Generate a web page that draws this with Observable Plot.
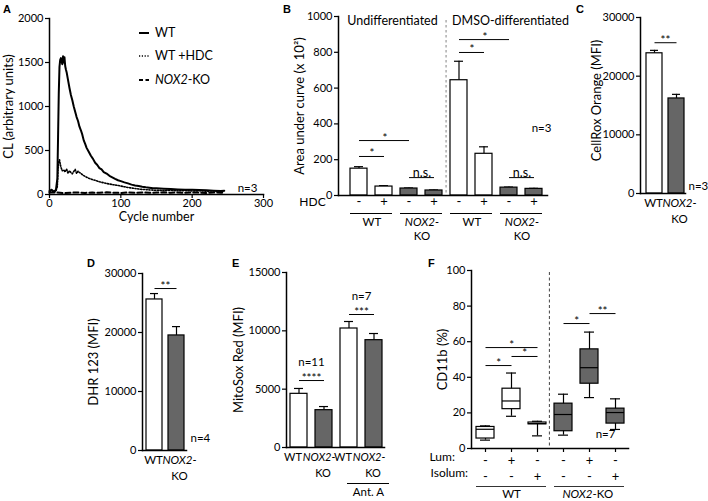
<!DOCTYPE html>
<html><head><meta charset="utf-8">
<script src="https://cdn.jsdelivr.net/npm/d3@7"></script>
<script src="https://cdn.jsdelivr.net/npm/@observablehq/plot@0.6"></script>
<style>
html,body{margin:0;padding:0;background:#fff;}
#wrap{position:relative;width:708px;height:501px;overflow:hidden;font-family:Lato,sans-serif;color:#000;}
.letter{position:absolute;font-weight:bold;font-size:11px;line-height:11px;font-family:Arial,"Liberation Sans",sans-serif;}
.leg{position:absolute;left:138px;font-size:12.5px;line-height:14px;display:flex;align-items:center;}
.leg svg{margin-right:5px;}
</style></head><body><div id="wrap"></div>
<script>
// ---------- Panel A: chemiluminescence curves ----------
const aXTicks = [0, 100, 200, 300];
const aYTicks = [0, 500, 1000, 1500, 2000];
const cyclesWT = [0,3,6,9,11,12,13,14,15,16,17,18,19,20,21,22,23,24,26,28,30,32,34,36,38,40,42,44,46,48,50,52,55,58,61,64,67,70,73,76,80,84,88,92,96,100,105,110,115,120,125,130,135,140,145,150,160,170,180,190,200,210,220,230,240,245];
const clWT =     [40,55,35,50,180,650,1150,1450,1530,1550,1510,1480,1570,1500,1560,1460,1420,1390,1300,1210,1130,1070,1000,940,880,835,770,730,680,615,575,530,485,440,405,360,335,300,285,255,238,212,195,178,162,152,138,126,112,102,96,88,82,78,72,70,66,62,58,55,53,50,47,44,41,42];
const cyclesHDC = [0,3,6,9,11,12,13,14,15,16,17,18,20,22,24,26,28,30,32,34,36,38,40,42,44,46,48,50,55,60,65,70,75,80,85,90,95,100,105,110,115,120,125,130,140,150,160,170,180,190,200,210,220,230,240,245];
const clHDC =     [30,45,25,40,90,280,370,395,350,310,290,270,280,255,290,240,270,250,235,262,285,240,265,250,240,225,215,205,185,170,158,145,135,125,118,110,104,96,88,80,74,68,62,58,52,48,45,48,42,45,40,42,38,40,36,35];
const cyclesKO = [0,10,20,30,40,50,60,70,80,90,100,110,120,130,140,150,160,170,180,190,200,210,220,230,240,245];
const clKO =     [22,25,15,20,24,18,22,19,25,20,18,23,20,24,19,22,25,20,23,19,24,21,18,23,20,22];

// ---------- Panel B: area under curve ----------
const bTicks = [0, 200, 400, 600, 800, 1000];
const bCats = ["U-WT-","U-WT+","U-KO-","U-KO+","D-WT-","D-WT+","D-KO-","D-KO+"];
const bGeno = ["WT","WT","KO","KO","WT","WT","KO","KO"];
const bHDC  = ["-","+","-","+","-","+","-","+"];
const bMean = [150, 50, 39, 28, 644, 233, 44, 37];
const bSem  = [11, 5, 3, 3, 106, 39, 3, 3];
const bSigFrom  = ["U-WT-","U-WT-","U-KO-","D-WT-","D-WT-","D-KO-"];
const bSigTo    = ["U-WT+","U-KO-","U-KO+","D-WT+","D-KO-","D-KO+"];
const bSigY     = [218, 307, 100, 799, 871, 100];
const bSigLabel = ["*","*","n.s.","*","*","n.s."];
const bGroupFrom  = ["U-WT-","U-KO-","D-WT-","D-KO-"];
const bGroupTo    = ["U-WT+","U-KO+","D-WT+","D-KO+"];
const bGroupLabel = ["WT","NOX2-","WT","NOX2-"];
const bGroupSub   = ["","KO","","KO"];

// ---------- Panel C: CellRox Orange ----------
const cTicks = [0, 10000, 20000, 30000];
const cCats = ["WT","KO"];
const cGeno = ["WT","KO"];
const cLabel = ["WT","NOX2-"];
const cSub = ["","KO"];
const cMean = [23900, 16200];
const cSem  = [500, 700];
const cSigFrom = ["WT"], cSigTo = ["KO"], cSigY = [25700], cSigLabel = ["**"];

// ---------- Panel D: DHR 123 ----------
const dTicks = [0, 10000, 20000, 30000];
const dCats = ["WT","KO"];
const dGeno = ["WT","KO"];
const dLabel = ["WT","NOX2-"];
const dSub = ["","KO"];
const dMean = [25600, 19500];
const dSem  = [1000, 1500];
const dSigFrom = ["WT"], dSigTo = ["KO"], dSigY = [27450], dSigLabel = ["**"];

// ---------- Panel E: MitoSox Red ----------
const eTicks = [0, 5000, 10000, 15000];
const eCats = ["WT","KO","WT AntA","KO AntA"];
const eGeno = ["WT","KO","WT","KO"];
const eLabel = ["WT","NOX2-","WT","NOX2-"];
const eSub = ["","KO","","KO"];
const eMean = [4600, 3200, 10200, 9200];
const eSem  = [460, 310, 600, 570];
const eSigFrom = ["WT","WT AntA"], eSigTo = ["KO","KO AntA"], eSigY = [5740, 11400], eSigLabel = ["****","***"], eSigN = ["n=11","n=7"];

// ---------- Panel F: CD11b boxes ----------
const fTicks = [0, 20, 40, 60, 80, 100];
const fCats = ["WT--","WT+-","WT-+","KO--","KO+-","KO-+"];
const fGeno = ["WT","WT","WT","KO","KO","KO"];
const fLum    = ["-","+","-","-","+","-"];
const fIsolum = ["-","-","+","-","-","+"];
const fMin = [4.7, 18.1, 7.1, 7.5, 28.6, 10.7];
const fQ1  = [5.6, 22.1, 13.6, 9.7, 36.4, 14.0];
const fMed = [10.8, 26.7, 14.0, 19.1, 45.4, 20.2];
const fQ3  = [12.1, 33.6, 14.6, 25.2, 55.7, 22.4];
const fMax = [12.7, 42.4, 15.3, 30.5, 65.4, 27.9];
const fSigFrom  = ["WT--","WT+-","WT--","KO--","KO+-"];
const fSigTo    = ["WT+-","WT-+","WT-+","KO+-","KO-+"];
const fSigY     = [46.6, 51.7, 56.7, 70.2, 75.8];
const fSigLabel = ["*","*","*","*","**"];

// ================= drawing =================
const FONT = 'Lato, sans-serif';
const KO_FILL = "#666666";
const LBL = 12;   // label font size
const wrap = document.getElementById("wrap");
const baseStyle = {fontFamily: FONT, fontSize: "11px", background: "transparent", overflow: "visible", color: "black"};
const fillOf = (g) => g === "WT" ? "white" : KO_FILL;
const isNox = d => typeof d.label === "string" && d.label.startsWith("NOX");

function place(el, left, top) {
  el.style.position = "absolute";
  el.style.left = left + "px";
  el.style.top = top + "px";
  wrap.appendChild(el);
}
function bandStep(range, n, pi) { return (range[1] - range[0]) / (n - pi); }
function axisLines() {
  return [
    Plot.frame({anchor: "left", strokeWidth: 1.5}),
    Plot.frame({anchor: "bottom", strokeWidth: 1.5})
  ];
}
function yAxis(ticks) {
  return Plot.axisY({ticks, tickSize: 4, tickPadding: 2, label: null, strokeWidth: 1.2, tickFormat: d => String(d)});
}
function yTitle(text, dx, dy = 0) {
  return Plot.text([text], {frameAnchor: "left", textAnchor: "middle", lineAnchor: "middle", rotate: -90, dx, dy, fontSize: 13});
}
function sigMarks(sig, cats, step) {
  const marks = [Plot.link(sig, {x1: "from", x2: "to", y1: "y", y2: "y", stroke: "black", strokeWidth: 1})];
  for (const s of sig) {
    const dx = (cats.indexOf(s.to) - cats.indexOf(s.from)) * step / 2;
    const isNs = s.label.startsWith("n.");
    marks.push(Plot.text([s], {x: "from", y: "y", text: "label", dx, dy: isNs ? -1 : 1, lineAnchor: "bottom", fontSize: isNs ? 12.5 : 11.5}));
  }
  return marks;
}
function barMarks(data, capInset) {
  return [
    Plot.ruleX(data, {x: "cat", y1: "mean", y2: d => d.mean + d.sem, strokeWidth: 1.2}),
    Plot.tickY(data, {x: "cat", y: d => d.mean + d.sem, insetLeft: capInset, insetRight: capInset, strokeWidth: 1.2}),
    Plot.barY(data, {x: "cat", y: "mean", fill: d => fillOf(d.geno), stroke: "black", strokeWidth: 1.2})
  ];
}
// group/genotype labels: upright ones and italic NOX2 ones as two marks
function genoLabels(data, opts, noxDx = 0) {
  return [
    Plot.text(data.filter(d => !isNox(d)), {...opts, text: "label"}),
    Plot.text(data.filter(isNox), {...opts, text: "label", fontStyle: "italic", dx: (opts.dx || 0) + noxDx})
  ];
}
function zipSig(from, to, y, label) { return from.map((f, i) => ({from: f, to: to[i], y: y[i], label: label[i]})); }

// ---- Panel A ----
const aData = [
  ...cyclesWT.map((c, i) => ({series: "WT", cycle: c, cl: clWT[i]})),
  ...cyclesHDC.map((c, i) => ({series: "HDC", cycle: c, cl: clHDC[i]})),
  ...cyclesKO.map((c, i) => ({series: "KO", cycle: c, cl: clKO[i]}))
];
const plotA = Plot.plot({
  width: 285, height: 235, marginLeft: 49, marginRight: 22, marginTop: 18, marginBottom: 41,
  style: baseStyle,
  x: {domain: [0, 300]}, y: {domain: [0, 2000]},
  marks: [
    Plot.axisX({ticks: aXTicks, tickSize: 4, tickPadding: 1, label: null, strokeWidth: 1.2}),
    yAxis(aYTicks),
    Plot.line(aData.filter(d => d.series === "KO"), {x: "cycle", y: "cl", stroke: "black", strokeWidth: 2, strokeDasharray: "5,3"}),
    Plot.line(aData.filter(d => d.series === "HDC"), {x: "cycle", y: "cl", stroke: "black", strokeWidth: 1.6, strokeDasharray: "1.2,1.6"}),
    Plot.line(aData.filter(d => d.series === "WT"), {x: "cycle", y: "cl", stroke: "black", strokeWidth: 2}),
    ...axisLines(),
    Plot.text(["Cycle number"], {frameAnchor: "bottom", dy: 26, fontSize: 12.5}),
    yTitle("CL (arbitrary units)", -41),
    Plot.text(["n=3"], {frameAnchor: "bottom-right", dx: -16, dy: -3, textAnchor: "middle", fontSize: 11.5})
  ]
});
place(plotA, 0, 0);

// ---- Panel B ----
const bRange = [67, 266], bPI = 0.304;
const bStep = bandStep(bRange, bCats.length, bPI);
const bData = bCats.map((c, i) => ({cat: c, geno: bGeno[i], hdc: bHDC[i], mean: bMean[i], sem: bSem[i]}));
const bGroups = bGroupFrom.map((f, i) => ({from: f, to: bGroupTo[i], label: bGroupLabel[i], sub: bGroupSub[i]}));
const plotB = Plot.plot({
  width: 290, height: 240, marginLeft: 58, marginRight: 23, marginTop: 16, marginBottom: 45,
  style: baseStyle,
  x: {type: "band", domain: bCats, range: bRange, paddingInner: bPI, paddingOuter: 0, axis: null},
  y: {domain: [0, 1000]},
  marks: [
    yAxis(bTicks),
    Plot.ruleX(["D-WT-"], {x: d => d, dx: -(bStep / 2), stroke: "#999", strokeWidth: 1.2, strokeDasharray: "2.5,2.5", insetTop: 4}),
    ...barMarks(bData, 4),
    ...sigMarks(zipSig(bSigFrom, bSigTo, bSigY, bSigLabel), bCats, bStep),
    ...axisLines(),
    Plot.text(bData, {x: "cat", text: "hdc", frameAnchor: "bottom", dy: 10, fontSize: 13}),
    Plot.text(["HDC"], {frameAnchor: "bottom-left", dx: -26, dy: 10, textAnchor: "middle", fontSize: LBL}),
    Plot.ruleY(bGroups, {x1: "from", x2: "to", y: () => 0, dy: 18, strokeWidth: 1}),
    ...genoLabels(bGroups, {x: "from", y: () => 0, dx: bStep / 2, dy: 27, fontSize: 11.5}),
    Plot.text(bGroups, {x: "from", text: "sub", y: () => 0, dx: bStep / 2, dy: 40.5, fontSize: 11.5}),
    Plot.text(["Undifferentiated"], {frameAnchor: "top-left", dx: 54, textAnchor: "middle", fontSize: 12.5}),
    Plot.text(["DMSO-differentiated"], {frameAnchor: "top-left", dx: 172, textAnchor: "middle", fontSize: 12.5}),
    Plot.text(["n=3"], {frameAnchor: "top-right", dx: -6, dy: 107, textAnchor: "middle", fontSize: 11.5}),
    yTitle("Area under curve (x 10²)", -39)
  ]
});
place(plotB, 280, 0);

// ---- simple two/four bar panels ----
function barPanel({cats, geno, label, sub, mean, sem, ticks, yMax, range, pi, width, height, margins, sig, title, titleDx, titleDy = 0, labelDx = -1, noxDx = 4, subDx = 3, labelSize = 11.5, extra}) {
  const step = bandStep(range, cats.length, pi);
  const data = cats.map((c, i) => ({cat: c, geno: geno[i], label: label[i], sub: sub[i], mean: mean[i], sem: sem[i]}));
  return Plot.plot({
    width, height, ...margins, style: baseStyle,
    x: {type: "band", domain: cats, range, paddingInner: pi, paddingOuter: 0, axis: null},
    y: {domain: [0, yMax]},
    marks: [
      yAxis(ticks),
      ...barMarks(data, 4),
      ...sigMarks(sig, cats, step),
      ...axisLines(),
      ...genoLabels(data, {x: "cat", y: () => 0, dy: 10, dx: labelDx, fontSize: labelSize}, noxDx),
      Plot.text(data, {x: "cat", y: () => 0, text: "sub", dy: 26, dx: subDx, fontSize: labelSize}),
      yTitle(title, titleDx, titleDy),
      ...extra(step)
    ]
  });
}

const plotC = barPanel({
  cats: cCats, geno: cGeno, label: cLabel, sub: cSub, mean: cMean, sem: cSem, ticks: cTicks, yMax: 30000,
  range: [76, 114], pi: 0.273, width: 138, height: 240,
  margins: {marginLeft: 70, marginRight: 23, marginTop: 17, marginBottom: 47},
  sig: zipSig(cSigFrom, cSigTo, cSigY, cSigLabel), title: "CellRox Orange (MFI)", titleDx: -44, titleDy: -5,
  extra: () => [Plot.text(["n=3"], {frameAnchor: "bottom-right", dx: 3, dy: -4, textAnchor: "start", fontSize: 11.5})]
});
place(plotC, 570, 0);

const plotD = barPanel({
  cats: dCats, geno: dGeno, label: dLabel, sub: dSub, mean: dMean, sem: dSem, ticks: dTicks, yMax: 30000,
  range: [86, 124], pi: 0.273, width: 150, height: 256,
  margins: {marginLeft: 82, marginRight: 24, marginTop: 28, marginBottom: 51},
  sig: zipSig(dSigFrom, dSigTo, dSigY, dSigLabel), title: "DHR 123 (MFI)", titleDx: -49,
  extra: () => [Plot.text(["n=4"], {frameAnchor: "bottom-right", dx: 4, dy: -9, textAnchor: "start", fontSize: 11.5})]
});
place(plotD, 60, 245);

const eSig = zipSig(eSigFrom, eSigTo, eSigY, eSigLabel);
const plotE = barPanel({
  cats: eCats, geno: eGeno, label: eLabel, sub: eSub, mean: eMean, sem: eSem, ticks: eTicks, yMax: 15000,
  range: [70, 162], pi: 0.32, width: 170, height: 256,
  margins: {marginLeft: 66, marginRight: 6, marginTop: 27, marginBottom: 54},
  sig: eSig, title: "MitoSox Red (MFI)", titleDx: -48,
  labelDx: -6, noxDx: 1, subDx: -1, labelSize: 11,
  extra: (step) => [
    ...eSig.map((s, i) => Plot.text([eSigN[i]], {x: () => s.from, y: () => s.y, dx: step / 2, dy: -18, fontSize: 11.5})),
    Plot.ruleY([0], {x1: () => "WT AntA", x2: () => "KO AntA", y: () => 0, dy: 36, dx: 7, strokeWidth: 1}),
    Plot.text(["Ant. A"], {x: () => "WT AntA", y: () => 0, dx: step / 2 + 7, dy: 45, fontSize: 11.5})
  ]
});
place(plotE, 220, 245);

// ---- Panel F ----
const fRange = [95, 244], fPI = 0.313;
const fStep = bandStep(fRange, fCats.length, fPI);
const fData = fCats.map((c, i) => ({cat: c, geno: fGeno[i], lum: fLum[i], isolum: fIsolum[i], min: fMin[i], q1: fQ1[i], med: fMed[i], q3: fQ3[i], max: fMax[i]}));
const fGroups = [{from: "WT--", to: "WT-+"}, {from: "KO--", to: "KO-+"}];
const plotF = Plot.plot({
  width: 328, height: 256, marginLeft: 91, marginRight: 80, marginTop: 25, marginBottom: 53,
  style: baseStyle,
  x: {type: "band", domain: fCats, range: fRange, paddingInner: fPI, paddingOuter: 0},
  y: {domain: [0, 100]},
  marks: [
    yAxis(fTicks),
    Plot.axisX({tickSize: 4, tickFormat: () => "", label: null, strokeWidth: 1.2}),
    Plot.ruleX(["KO--"], {x: d => d, dx: -(fStep / 2) - 1, stroke: "#444", strokeWidth: 1, strokeDasharray: "3,2.5", insetTop: 2}),
    Plot.ruleX(fData, {x: "cat", y1: "min", y2: "max", strokeWidth: 1.2}),
    Plot.tickY(fData, {x: "cat", y: "min", insetLeft: 4, insetRight: 4, strokeWidth: 1.2}),
    Plot.tickY(fData, {x: "cat", y: "max", insetLeft: 4, insetRight: 4, strokeWidth: 1.2}),
    Plot.rectY(fData, {x: "cat", y1: "q1", y2: "q3", fill: d => fillOf(d.geno), stroke: "black", strokeWidth: 1.2}),
    Plot.tickY(fData, {x: "cat", y: "med", strokeWidth: 1.2}),
    ...sigMarks(zipSig(fSigFrom, fSigTo, fSigY, fSigLabel), fCats, fStep),
    ...axisLines(),
    Plot.text(["n=7"], {frameAnchor: "bottom-right", dx: -23, dy: -11, textAnchor: "middle", fontSize: 11.5}),
    Plot.text(["Lum:"], {frameAnchor: "bottom-left", dx: -42, dy: 12, textAnchor: "start", fontSize: LBL}),
    Plot.text(["Isolum:"], {frameAnchor: "bottom-left", dx: -41, dy: 28, textAnchor: "start", fontSize: LBL}),
    Plot.text(fData, {x: "cat", y: () => 0, text: "lum", dy: 12, fontSize: 13}),
    Plot.text(fData, {x: "cat", y: () => 0, text: "isolum", dy: 28, fontSize: 13}),
    Plot.ruleY(fGroups, {x1: "from", x2: "to", y: () => 0, dy: 38, strokeWidth: 0.8}),
    Plot.text(["WT"], {x: () => "WT+-", y: () => 0, dy: 46, fontSize: 11.5}),
    Plot.text(["NOX2"], {x: () => "KO+-", y: () => 0, dy: 46, dx: 3, textAnchor: "end", fontStyle: "italic", fontSize: 11.5}),
    Plot.text(["-KO"], {x: () => "KO+-", y: () => 0, dy: 46, dx: 3, textAnchor: "start", fontSize: 11.5}),
    yTitle("CD11b (%)", -29)
  ]
});
place(plotF, 380, 245);

// ---- Panel letters ----
[["A", 3, 4], ["B", 283, 4], ["C", 576, 4], ["D", 87, 258], ["E", 232, 258], ["F", 428, 258]].forEach(([t, x, y]) => {
  const d = document.createElement("div");
  d.className = "letter"; d.textContent = t;
  d.style.left = x + "px"; d.style.top = y + "px";
  wrap.appendChild(d);
});

// ---- Legend for panel A ----
const legendItems = [
  {label: "WT", dash: "none", width: 2, top: 26},
  {label: "WT +HDC", dash: "1.2,1.6", width: 1.6, top: 49},
  {label: "<i>NOX2</i>-KO", dash: "4,2.5", width: 2, top: 73}
];
legendItems.forEach(it => {
  const d = document.createElement("div");
  d.className = "leg";
  d.style.top = it.top + "px";
  d.innerHTML = `<svg width="12" height="14"><line x1="1" x2="11" y1="7" y2="7" stroke="black" stroke-width="${it.width}" stroke-dasharray="${it.dash}"/></svg><span>${it.label}</span>`;
  wrap.appendChild(d);
});
</script>
</body></html>
